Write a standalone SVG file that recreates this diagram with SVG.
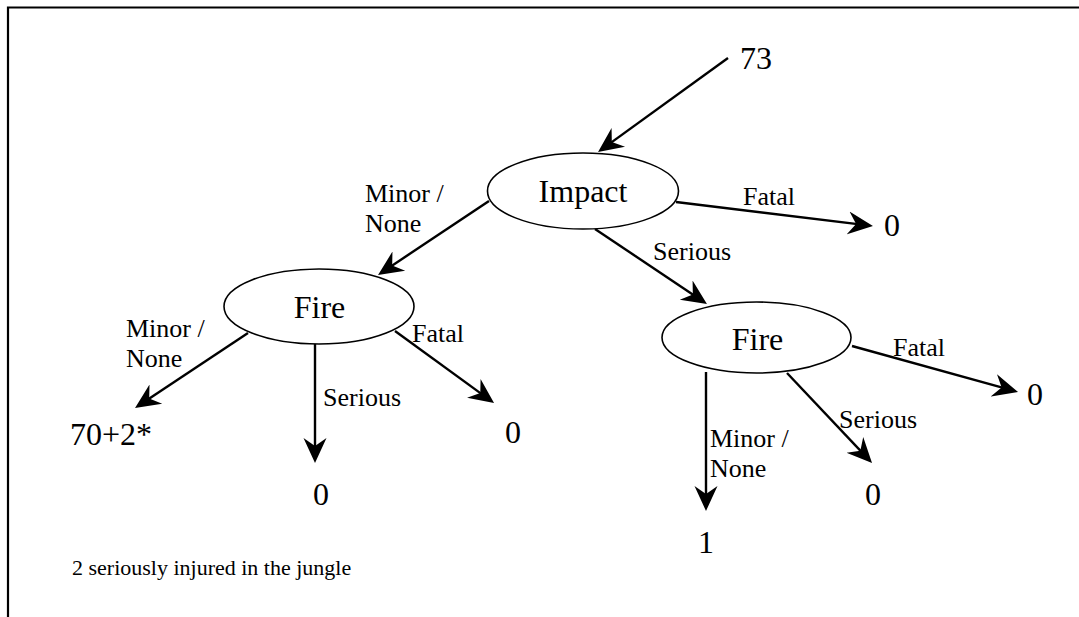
<svg xmlns="http://www.w3.org/2000/svg" width="1079" height="617" viewBox="0 0 1079 617">
<style>
.big{font-family:"Liberation Serif","Times New Roman",serif;font-size:32px;fill:#000}
.lbl{font-family:"Liberation Serif","Times New Roman",serif;font-size:26px;fill:#000}
.note{font-family:"Liberation Serif","Times New Roman",serif;font-size:22px;fill:#000}
.node{fill:#fff;stroke:#000;stroke-width:1.6}
.edge{stroke:#000;stroke-width:2.4;fill:none;marker-end:url(#arr)}
</style>
<defs>
<marker id="arr" viewBox="0 0 26 26" refX="20" refY="13" markerWidth="26" markerHeight="26" markerUnits="userSpaceOnUse" orient="auto">
<path d="M25,13 L0,1.5 L8,13 L0,24.5 Z" fill="#000"/>
</marker>
</defs>
<rect width="1079" height="617" fill="#fff"/>
<g id="frame">
<path d="M8,617 V7.5 H1079" fill="none" stroke="#000" stroke-width="2.2"/>
</g>
<g id="connectors">
<line class="edge" x1="728" y1="58" x2="602.1" y2="149.1"/>
<line class="edge" x1="489" y1="201" x2="382.2" y2="272.2"/>
<line class="edge" x1="676" y1="202" x2="868" y2="225.4"/>
<line class="edge" x1="595" y1="229" x2="702.8" y2="301.2"/>
<line class="edge" x1="248" y1="333" x2="139.2" y2="405.2"/>
<line class="edge" x1="315" y1="344" x2="315" y2="458"/>
<line class="edge" x1="395" y1="331" x2="490" y2="400.1"/>
<line class="edge" x1="706" y1="372" x2="706" y2="506"/>
<line class="edge" x1="787" y1="373" x2="868.6" y2="459.4"/>
<line class="edge" x1="852" y1="346" x2="1013.2" y2="390.7"/>
</g>
<g id="labels">
<text class="lbl" x="365" y="202">Minor /</text>
<text class="lbl" x="365" y="232">None</text>
<text class="lbl" x="743" y="205">Fatal</text>
<text class="lbl" x="653" y="260">Serious</text>
<text class="lbl" x="126" y="337">Minor /</text>
<text class="lbl" x="126" y="367">None</text>
<text class="lbl" x="323" y="406">Serious</text>
<text class="lbl" x="412" y="342">Fatal</text>
<text class="lbl" x="710" y="447">Minor /</text>
<text class="lbl" x="710" y="477">None</text>
<text class="lbl" x="839" y="428">Serious</text>
<text class="lbl" x="893" y="356">Fatal</text>
</g>
<g id="n73"><text class="big" x="740" y="69">73</text></g>
<g id="impact">
<ellipse class="node" cx="583" cy="191" rx="95.5" ry="38"/>
<text class="big" x="583" y="202" text-anchor="middle">Impact</text>
</g>
<g id="fireLeft">
<ellipse class="node" cx="319" cy="306.5" rx="95" ry="37.5"/>
<text class="big" x="319.5" y="318" text-anchor="middle">Fire</text>
</g>
<g id="fireRight">
<ellipse class="node" cx="756.5" cy="337.5" rx="94.5" ry="35.5"/>
<text class="big" x="757.5" y="350" text-anchor="middle">Fire</text>
</g>
<g id="impactFatal"><text class="big" x="884" y="236">0</text></g>
<g id="leftMinor"><text class="big" x="70" y="445">70+2*</text></g>
<g id="leftSerious"><text class="big" x="313" y="505">0</text></g>
<g id="leftFatal"><text class="big" x="505" y="443">0</text></g>
<g id="rightMinor"><text class="big" x="698" y="553">1</text></g>
<g id="rightSerious"><text class="big" x="865" y="505">0</text></g>
<g id="rightFatal"><text class="big" x="1027" y="405">0</text></g>
<g id="footnote"><text class="note" x="72" y="575">2 seriously injured in the jungle</text></g>
</svg>
